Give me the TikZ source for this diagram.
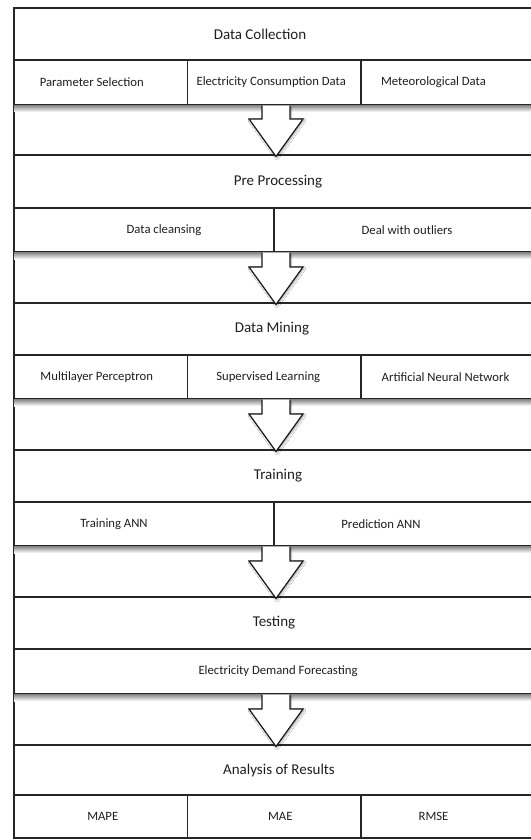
\documentclass[tikz,border=0pt]{standalone}
\usepackage{fontspec}
\setmainfont{Carlito}
\usetikzlibrary{calc,shadows.blur}
\newcommand\tsh[2]{\ifdim#1pt<0pt \makebox[0pt]{#2}\hspace*{-2\dimexpr#1pt\relax}\else\hspace*{2\dimexpr#1pt\relax}\makebox[0pt]{#2}\fi}
\tikzset{
  base/.style={draw=black!85, line width=1.3pt, inner sep=0pt, outer sep=0pt, anchor=north west, text=black!88},
  titlebox/.style={base, minimum width=524pt, font=\fontsize{15}{17}\selectfont},
  rowthree/.style={base, minimum width=173.5pt, font=\fontsize{12.7}{14}\selectfont},
  rowlast/.style={base, minimum width=177pt, font=\fontsize{12.7}{14}\selectfont},
  rowtwo/.style={base, minimum width=260pt, font=\fontsize{12.7}{14}\selectfont},
  rowtwolast/.style={base, minimum width=264pt, font=\fontsize{12.7}{14}\selectfont},
  rowone/.style={base, minimum width=524pt, font=\fontsize{12.7}{14}\selectfont},
  barrow/.style={draw=black!90, line width=1.2pt, fill=white, line join=miter,
     blur shadow={shadow xshift=1pt, shadow yshift=-1.5pt, shadow opacity=35, shadow blur steps=6}},
  rowshade/.style={top color=black!45, bottom color=white, draw=none}
}
\newcommand\blockarrow[2]{% #1 = row node (bottom), #2 = next title node
  \path let \p1=(#1.south), \p2=(#2.north) in
    coordinate (shtop) at (\x2,\y1);
  \shade[rowshade] ($(shtop)+(-262,0.6)$) rectangle ($(shtop)+(262,7)$);
  \draw[barrow] ($(shtop)+(-14,0.7)$) -- ($(#2.north)+(-14,-36)$) -- ($(#2.north)+(-27,-36)$)
     -- ($(#2.north)+(0,1.5)$) -- ($(#2.north)+(27,-36)$) -- ($(#2.north)+(14,-36)$) -- ($(shtop)+(14,0.7)$);
}
\begin{document}
\begin{tikzpicture}[x=1pt,y=-1pt]
\useasboundingbox[fill=white] (0,0) rectangle (530,840);
% band 1
\node[titlebox, minimum height=52pt] (t1) at (14,8) {\tsh{-16}{Data Collection}};
\node[rowthree, minimum height=45pt] (r1a) at (14,60) {\tsh{-9}{Parameter Selection}};
\node[rowthree, minimum height=45pt] (r1b) at (187.5,60) {\tsh{-3}{Electricity Consumption Data}};
\node[rowlast, minimum height=45pt] (r1c) at (361,60) {\tsh{-16}{Meteorological Data}};
% band 2
\node[titlebox, minimum height=53pt] (t2) at (14,155) {\tsh{2}{Pre Processing}};
\node[rowtwo, minimum height=44pt] (r2a) at (14,208) {\tsh{20}{Data cleansing}};
\node[rowtwolast, minimum height=44pt] (r2b) at (274,208) {\tsh{1}{Deal with outliers}};
% band 3
\node[titlebox, minimum height=52pt] (t3) at (14,303) {\tsh{-4}{Data Mining}};
\node[rowthree, minimum height=44pt] (r3a) at (14,355) {\tsh{-4}{Multilayer Perceptron}};
\node[rowthree, minimum height=44pt] (r3b) at (187.5,355) {\tsh{-6}{Supervised Learning}};
\node[rowlast, minimum height=44pt] (r3c) at (361,355) {\tsh{-4}{Artificial Neural Network}};
% band 4
\node[titlebox, minimum height=52pt] (t4) at (14,450) {\tsh{2}{Training}};
\node[rowtwo, minimum height=44pt] (r4a) at (14,502) {\tsh{-30}{Training ANN}};
\node[rowtwolast, minimum height=44pt] (r4b) at (274,502) {\tsh{-25}{Prediction ANN}};
% band 5
\node[titlebox, minimum height=52pt] (t5) at (14,597) {\tsh{-2}{Testing}};
\node[rowone, minimum height=45pt] (r5) at (14,649) {\tsh{2}{Electricity Demand Forecasting}};
% band 6
\node[titlebox, minimum height=50pt] (t6) at (14,745) {\tsh{3}{Analysis of Results}};
\node[rowthree, minimum height=43pt] (r6a) at (14,795) {\tsh{2}{MAPE}};
\node[rowthree, minimum height=43pt] (r6b) at (187.5,795) {\tsh{6}{MAE}};
\node[rowlast, minimum height=43pt] (r6c) at (361,795) {\tsh{-16}{RMSE}};
% left border of frame through the gaps
\draw[draw=black!85, line width=1.3pt] (t1.north west) -- (r6a.south west);
% block arrows
\blockarrow{r1b}{t2}
\blockarrow{r2a}{t3}
\blockarrow{r3b}{t4}
\blockarrow{r4a}{t5}
\blockarrow{r5}{t6}
\end{tikzpicture}
\end{document}
